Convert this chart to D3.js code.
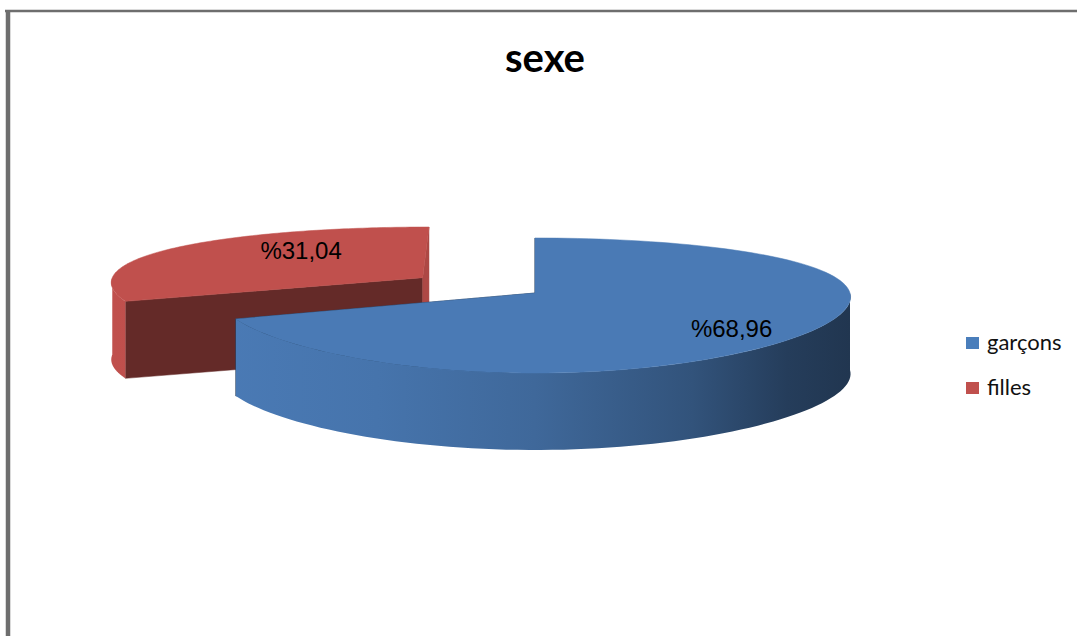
<!DOCTYPE html>
<html><head><meta charset="utf-8">
<script src="https://cdn.jsdelivr.net/npm/d3@7"></script>
<style>body{margin:0;background:#fff}svg{display:block}</style>
</head><body>
<script>
// ---- data ----
const title = "sexe";
const categories = ["garçons", "filles"];
const values = [68.96, 31.04];
const valueLabels = ["%68,96", "%31,04"];
const baseColors = ["#4a7ab5", "#c0504d"];
const legendColors = ["#4a7ebb", "#c0504d"];

// ---- style / geometry constants ----
const W = 1077, H = 636;
const CX = 535, CY = 293, RX = 315, RY = 65.2, DEPTH = 77;
const KY = 0.185, KX = 0.06;
const EXPLODE_INDEX = 1, EXPLODE_DIST = 0.437;
const LABEL_RX = 0.62, LABEL_RY = 0.88, LABEL_DX = 30;

const svg = d3.select("body").append("svg").attr("width", W).attr("height", H);

// border (only top and left visible)
svg.append("line").attr("x1", 5).attr("x2", W + 5).attr("y1", 11).attr("y2", 11)
  .attr("stroke", "#6e6e6e").attr("stroke-width", 2.5);
svg.append("line").attr("x1", 8).attr("x2", 8).attr("y1", 10).attr("y2", H + 5)
  .attr("stroke", "#6e6e6e").attr("stroke-width", 4.5);

svg.append("text").attr("x", 545).attr("y", 72).attr("text-anchor", "middle")
  .attr("font-family", "Lato, 'Open Sans', sans-serif").attr("font-weight", "bold")
  .attr("font-size", 40).attr("fill", "#000").text(title);

// projection with mild perspective (wy>0 = nearer the viewer)
function P(wx, wy, drop) {
  const sy = 1 / (1 - KY * wy), sx = 1 / (1 - KX * wy);
  return [CX + RX * wx * sx, CY + RY * wy * sy + drop * DEPTH];
}
function rim(a, o, drop, r = 1) { return P(o[0] + r * Math.sin(a), o[1] - r * Math.cos(a), drop); }

const pie = d3.pie().sort(null).value(d => d);
const arcs = pie(values).map((d, i) => {
  const mid = (d.startAngle + d.endAngle) / 2;
  const e = i === EXPLODE_INDEX ? EXPLODE_DIST : 0;
  return { ...d, i, mid, o: [e * Math.sin(mid), -e * Math.cos(mid)] };
});

function shade(hex, f) {
  const c = d3.rgb(hex);
  return d3.rgb(Math.min(255, c.r * f), Math.min(255, c.g * f), Math.min(255, c.b * f)).toString();
}
const line = d3.line();
const defs = svg.append("defs");
const g = svg.append("g");

// draw farther slices first
const order = arcs.slice().sort((a, b) => (a.o[1] - Math.cos(a.mid)) - (b.o[1] - Math.cos(b.mid)));

const visLo = Math.PI / 2, visHi = 3 * Math.PI / 2;
order.forEach(d => {
  const base = baseColors[d.i];
  const c0 = rim(0, d.o, 0, 0);
  const c1 = rim(0, d.o, 1, 0);
  // radial cut faces
  [[d.startAngle, -1], [d.endAngle, 1]].forEach(([a, sgn]) => {
    const nx = Math.sin(a + sgn * Math.PI / 2);
    const f = Math.max(0.3, 0.3 + 0.6 * nx);
    const pts = [c0, rim(a, d.o, 0), rim(a, d.o, 1), c1];
    g.append("path").attr("d", line(pts) + "Z").attr("fill", shade(base, f))
      .attr("stroke", shade(base, f)).attr("stroke-width", 0.5);
  });
  // outer curved side
  const a0 = Math.max(d.startAngle, visLo), a1 = Math.min(d.endAngle, visHi);
  if (a1 > a0) {
    const gid = "sideGrad" + d.i;
    const gr = defs.append("linearGradient").attr("id", gid).attr("gradientUnits", "userSpaceOnUse")
      .attr("x1", rim(3 * Math.PI / 2, d.o, 0)[0]).attr("x2", rim(Math.PI / 2, d.o, 0)[0])
      .attr("y1", 0).attr("y2", 0);
    [[0, 1.0], [0.25, 0.95], [0.5, 0.85], [0.75, 0.68], [0.9, 0.5], [1, 0.44]].forEach(([o, f]) =>
      gr.append("stop").attr("offset", o).attr("stop-color", shade(base, f)));
    const steps = d3.range(a0, a1, (a1 - a0) / 80).concat([a1]);
    const top = steps.map(a => rim(a, d.o, 0));
    const bot = steps.slice().reverse().map(a => rim(a, d.o, 1));
    g.append("path").attr("d", line(top.concat(bot)) + "Z").attr("fill", `url(#${gid})`);
  }
  // top face
  const ts = d3.range(d.startAngle, d.endAngle, (d.endAngle - d.startAngle) / 120).concat([d.endAngle]);
  const topPts = [c0].concat(ts.map(a => rim(a, d.o, 0)));
  g.append("path").attr("d", line(topPts) + "Z").attr("fill", base)
    .attr("stroke", base).attr("stroke-width", 0.5);
});

// data labels
arcs.forEach(d => {
  const p = P(d.o[0] + LABEL_RX * Math.sin(d.mid), d.o[1] - LABEL_RY * Math.cos(d.mid), 0);
  svg.append("text").attr("x", p[0] + LABEL_DX).attr("y", p[1]).attr("dy", "0.36em")
    .attr("text-anchor", "middle").attr("font-family", "'Liberation Sans', Arial, sans-serif")
    .attr("font-size", 24).attr("fill", "#000").text(valueLabels[d.i]);
});

// legend
const lg = svg.append("g");
categories.forEach((c, i) => {
  lg.append("rect").attr("x", 966).attr("y", 337 + i * 45).attr("width", 13).attr("height", 12)
    .attr("fill", legendColors[i]);
  lg.append("text").attr("x", 987).attr("y", 350 + i * 45)
    .attr("font-family", "Lato, 'Open Sans', sans-serif").attr("font-size", 22)
    .attr("fill", "#111").text(c);
});
</script>
</body></html>
